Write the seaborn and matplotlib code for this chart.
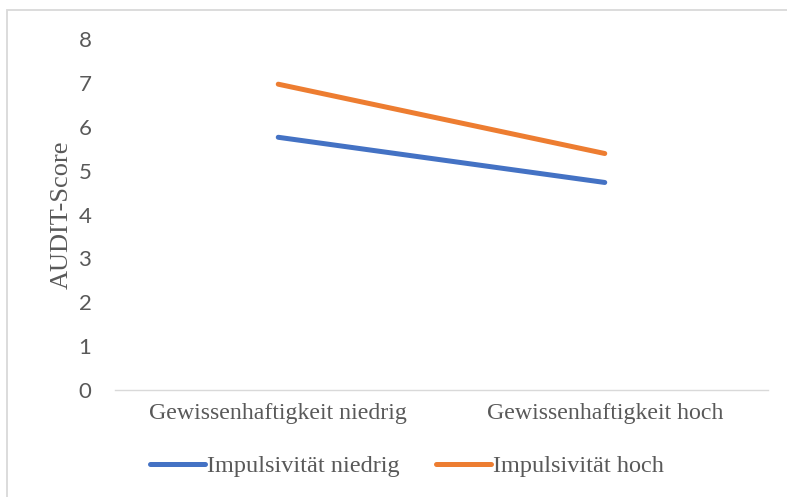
import matplotlib
matplotlib.use("Agg")
import matplotlib.pyplot as plt
import seaborn as sns
import pandas as pd
from matplotlib.patches import Rectangle
from matplotlib.lines import Line2D

# Data
categories = ["Gewissenhaftigkeit niedrig", "Gewissenhaftigkeit hoch"]
series_names = ["Impulsivität niedrig", "Impulsivität hoch"]
impulsiv_niedrig = [5.76, 4.73]
impulsiv_hoch = [6.97, 5.39]
y_ticks = [0, 1, 2, 3, 4, 5, 6, 7, 8]
colors = ["#4472C4", "#ED7D31"]

rows = []
for name, vals in zip(series_names, [impulsiv_niedrig, impulsiv_hoch]):
    for i, (cat, v) in enumerate(zip(categories, vals)):
        rows.append({"pos": i, "Kategorie": cat, "AUDIT-Score": v, "Gruppe": name})
df = pd.DataFrame(rows)

sns.set_theme(style="white")
plt.rcParams["font.family"] = ["Liberation Serif", "DejaVu Serif"]

W, H = 787, 497
fig = plt.figure(figsize=(W / 100, H / 100), dpi=100)
ax = fig.add_axes([115 / W, 1 - 390 / H, (768 - 115) / W, (390 - 39) / H])

sns.lineplot(data=df, x="pos", y="AUDIT-Score", hue="Gruppe",
             hue_order=series_names, palette=colors, linewidth=3.6,
             ax=ax, legend=False, solid_capstyle="round")

text_col = "#595959"
ax.set_xlim(-0.5, 1.5)
ax.set_ylim(0, 8)
ax.set_yticks(y_ticks)
ax.set_yticklabels([str(t) for t in y_ticks], family=["Lato", "DejaVu Sans"],
                   fontsize=16, color=text_col)
ax.set_xticks(range(len(categories)))
ax.set_xticklabels(categories, fontsize=17.2, color=text_col)
ax.tick_params(axis="y", length=0, pad=17)
ax.tick_params(axis="x", length=0, pad=9)
ax.set_xlabel("")
ax.set_ylabel("AUDIT-Score", fontsize=19, color=text_col, labelpad=4)
ax.grid(False)
for s in ["top", "right", "left"]:
    ax.spines[s].set_visible(False)
ax.spines["bottom"].set_color("#D9D9D9")
ax.spines["bottom"].set_linewidth(1.0)

# Legend
handles = [Line2D([0], [0], color=c, lw=3.6, solid_capstyle="round") for c in colors]
fig.legend(handles, series_names, loc="center", ncol=2,
           bbox_to_anchor=(407 / W, 1 - 466 / H), frameon=False,
           fontsize=17.5, labelcolor=text_col, handlelength=2.25,
           handletextpad=0.1, columnspacing=1.5)

# Chart border
fig.patches.append(Rectangle((7 / W, -0.1), 1.2, 1 - 10 / H + 0.1,
                             transform=fig.transFigure, fill=False,
                             edgecolor="#D9D9D9", linewidth=1.3))

fig.savefig("out.png", dpi=100, facecolor="white")
